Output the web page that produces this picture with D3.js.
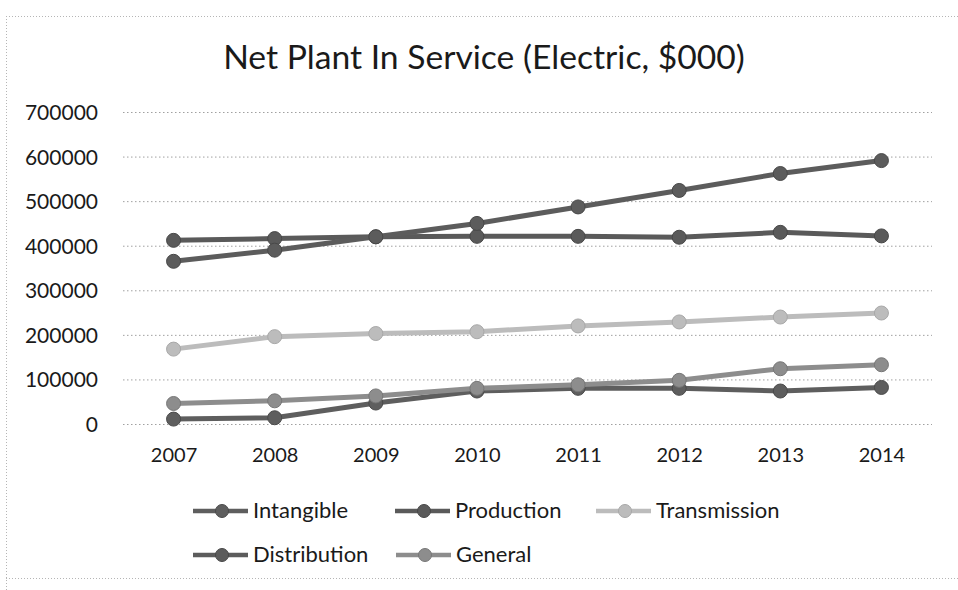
<!DOCTYPE html>
<html>
<head>
<meta charset="utf-8">
<script src="https://cdn.jsdelivr.net/npm/d3@7"></script>
<style>
  html, body { margin: 0; padding: 0; background: #fff; }
  svg { display: block; }
  text { font-family: Lato, "Open Sans", sans-serif; fill: #1a1a1a; }
</style>
</head>
<body>
<svg id="chart" width="958" height="590"></svg>
<script>
// ---- data ----
const years = ["2007", "2008", "2009", "2010", "2011", "2012", "2013", "2014"];
const intangible   = [11000, 14000, 47000, 74000, 80000, 80000, 74000, 82000];
const production   = [412000, 416000, 420000, 421000, 421000, 419000, 430000, 422000];
const transmission = [168000, 196000, 203000, 207000, 220000, 229000, 240000, 249000];
const distribution = [365000, 390000, 420000, 450000, 487000, 524000, 562000, 591000];
const general      = [46000, 52000, 63000, 80000, 88000, 98000, 124000, 133000];
const yTicks = [0, 100000, 200000, 300000, 400000, 500000, 600000, 700000];
const seriesNames = ["Intangible", "Production", "Transmission", "Distribution", "General"];
const titleText = "Net Plant In Service (Electric, $000)";

const seriesValues = [intangible, production, transmission, distribution, general];
const colors = ["#5e5e5e", "#5a5a5a", "#bcbcbc", "#5c5c5c", "#8d8d8d"];
const strokes = ["#4a4a4a", "#474747", "#a8a8a8", "#484848", "#777777"];

const svg = d3.select("#chart");

// chart border (dotted)
const border = svg.append("g").attr("stroke", "#b5b5b5").attr("stroke-width", 1)
  .attr("stroke-dasharray", "1,2").attr("fill", "none");
border.append("line").attr("x1", 6).attr("x2", 958).attr("y1", 16.5).attr("y2", 16.5);
border.append("line").attr("x1", 6.5).attr("x2", 6.5).attr("y1", 16).attr("y2", 590);
border.append("line").attr("x1", 6).attr("x2", 958).attr("y1", 578.5).attr("y2", 578.5);

// scales
const x = d3.scalePoint().domain(years).range([123, 932]).padding(0.5);
const y = d3.scaleLinear().domain([0, 700000]).range([424, 112]);

// gridlines
const grid = svg.append("g")
  .attr("transform", "translate(0,0)")
  .call(d3.axisLeft(y).tickValues(yTicks).tickSize(-(932 - 123)).tickFormat(""))
  .attr("transform", "translate(123,0)");
grid.select(".domain").remove();
grid.selectAll(".tick line").attr("stroke", "#a0a0a0").attr("stroke-dasharray", "1.5,2.5").attr("stroke-width", 1);

// y axis labels
const yAx = svg.append("g").attr("transform", "translate(98,0)")
  .call(d3.axisLeft(y).tickValues(yTicks).tickSize(0).tickPadding(0).tickFormat(d3.format("d")));
yAx.select(".domain").remove();
yAx.selectAll("text").attr("font-size", 21).attr("font-family", "Lato").attr("fill", "#1a1a1a").attr("dy", "0.36em");

// x axis labels
const xAx = svg.append("g").attr("transform", "translate(0,462)")
  .call(d3.axisBottom(x).tickSize(0).tickPadding(0));
xAx.select(".domain").remove();
xAx.selectAll("text").attr("font-size", 20).attr("font-family", "Lato").attr("fill", "#1a1a1a").attr("dy", 0);

// lines
const line = d3.line().x((d, i) => x(years[i])).y(d => y(d));
seriesValues.forEach((vals, si) => {
  const g = svg.append("g");
  g.append("path").datum(vals).attr("d", line).attr("fill", "none")
    .attr("stroke", colors[si]).attr("stroke-width", 5).attr("stroke-linejoin", "round");
  g.selectAll("circle").data(vals).join("circle")
    .attr("cx", (d, i) => x(years[i])).attr("cy", d => y(d)).attr("r", 7)
    .attr("fill", colors[si]).attr("stroke", strokes[si]).attr("stroke-width", 1);
});

// title
const title = svg.append("text").attr("x", 484).attr("y", 69).attr("text-anchor", "middle")
  .attr("font-size", 31).text(titleText);
const tw = title.node().getComputedTextLength();
title.attr("font-size", 31 * 522 / tw);

// legend
const legendPos = [
  {x: 193, y: 511}, {x: 395, y: 511}, {x: 596, y: 511},
  {x: 193, y: 555}, {x: 396, y: 555}
];
seriesNames.forEach((name, i) => {
  const p = legendPos[i];
  const g = svg.append("g").attr("transform", `translate(${p.x},${p.y})`);
  g.append("line").attr("x1", 0).attr("x2", 55).attr("y1", 0).attr("y2", 0)
    .attr("stroke", colors[i]).attr("stroke-width", 4.5);
  g.append("circle").attr("cx", 29).attr("cy", 0).attr("r", 6.5)
    .attr("fill", colors[i]).attr("stroke", strokes[i]).attr("stroke-width", 1);
  g.append("text").attr("x", 60).attr("y", 7).attr("font-size", 22).text(name);
});
</script>
</body>
</html>
